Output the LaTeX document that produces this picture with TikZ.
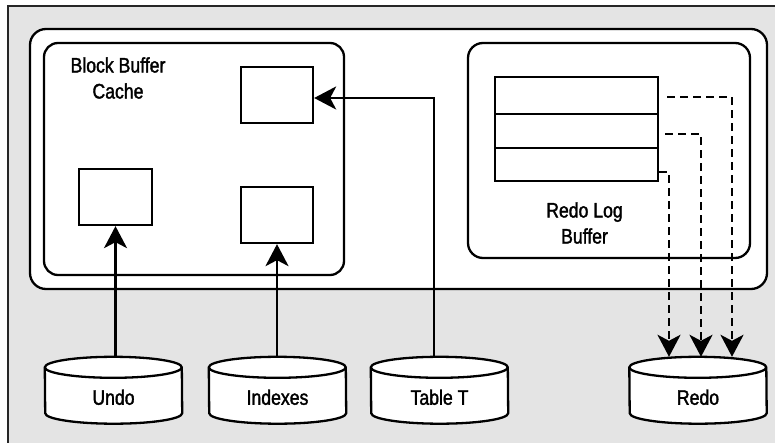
\documentclass[tikz,border=0pt]{standalone}
\usepackage{fontspec}
\setmainfont{Liberation Sans}[FakeStretch=0.84,FakeBold=1.6]
\usetikzlibrary{arrows.meta,calc}
\definecolor{bggray}{HTML}{E4E4E4}
\pgfdeclarelayer{back}
\pgfdeclarelayer{mid}
\pgfsetlayers{back,mid,main}
\begin{document}
\begin{tikzpicture}[x=1pt,y=-1pt,
  box/.style={draw,line width=2.3pt,fill=white,inner sep=0pt},
  rbox/.style={box,rounded corners=15pt},
  lbl/.style={align=center,font=\fontsize{21}{26}\selectfont,inner sep=0pt},
  cyl/.style={minimum width=137pt,minimum height=66.5pt,inner sep=0pt,font=\fontsize{21}{26}\selectfont,text height=29pt,text depth=0pt},
  cylline/.style={draw,fill=white,line width=2.3pt},
  arr/.style={line width=2.6pt,-{Stealth[length=22pt,width=23pt,inset=6pt]}},
  darr/.style={arr,dash pattern=on 8pt off 5pt}]
\useasboundingbox (0,0) rectangle (775,443);
\clip (0,0) rectangle (775,443);
\begin{pgfonlayer}{back}
\draw[fill=bggray,draw=black!85,line width=1.4pt] (8,6) rectangle (790,460);
\end{pgfonlayer}
% containers
\node[rbox, minimum width=737pt, minimum height=260pt, rounded corners=16pt] (sga) at (398.5,159) {};
\node[rbox, minimum width=300pt, minimum height=232pt, rounded corners=14pt] (bbc) at (194,159) {};
\node[rbox, minimum width=282pt, minimum height=215pt] (rlb) at (609,150.5) {};
\node[lbl] (bbct) at (118,78) {Block Buffer\\Cache};
\node[lbl] (rlbt) at (584.5,223) {Redo Log\\Buffer};
% blocks
\node[box, minimum width=72pt, minimum height=56pt] (bt) at (277,95) {};
\node[box, minimum width=73pt, minimum height=56pt] (bl) at (115.5,197) {};
\node[box, minimum width=72pt, minimum height=56pt] (br) at (277,215) {};
\node[box, minimum width=163pt, minimum height=37pt] (r1) at (576.5,95.5) {};
\node[box, minimum width=163pt, minimum height=34pt] (r2) at (576.5,131) {};
\node[box, minimum width=163pt, minimum height=33pt] (r3) at (576.5,164.5) {};
% disks
\node[cyl] (undo) at (113.5,390.25) {Undo};
\node[cyl] (idx) at (277.5,390.25) {Indexes};
\node[cyl] (tab) at (439.5,390.25) {Table T};
\node[cyl] (redo) at (698,390.25) {Redo};
\begin{pgfonlayer}{mid}
\foreach \n in {undo,idx,tab,redo}{
  \filldraw[cylline] ($(\n.north west)+(0,10.5)$) arc[start angle=180,end angle=0,x radius=68.5pt,y radius=10.5pt]
     -- ($(\n.south east)+(0,-10.5)$) arc[start angle=0,end angle=-180,x radius=68.5pt,y radius=10.5pt] -- cycle;
  \draw[cylline,fill=none] ($(\n.north west)+(0,10.5)$) arc[start angle=180,end angle=360,x radius=68.5pt,y radius=10.5pt];
}
\end{pgfonlayer}
% connectors
\draw[arr] (undo.north -| bl.south) -- (bl.south);
\draw[arr] (idx.north -| br.south) -- (br.south);
\draw[arr] ([xshift=-5.5pt]tab.north) |- ([yshift=-3pt]bt.east);
\draw[darr] ([xshift=8pt,yshift=-1.5pt]r1.east) -| ([xshift=34pt]redo.north);
\draw[darr] ([xshift=6pt,yshift=-3pt]r2.east) -| ([xshift=3pt]redo.north);
\draw[darr] ([yshift=-7.5pt]r3.east) -| ([xshift=-29pt]redo.north);
\end{tikzpicture}
\end{document}
